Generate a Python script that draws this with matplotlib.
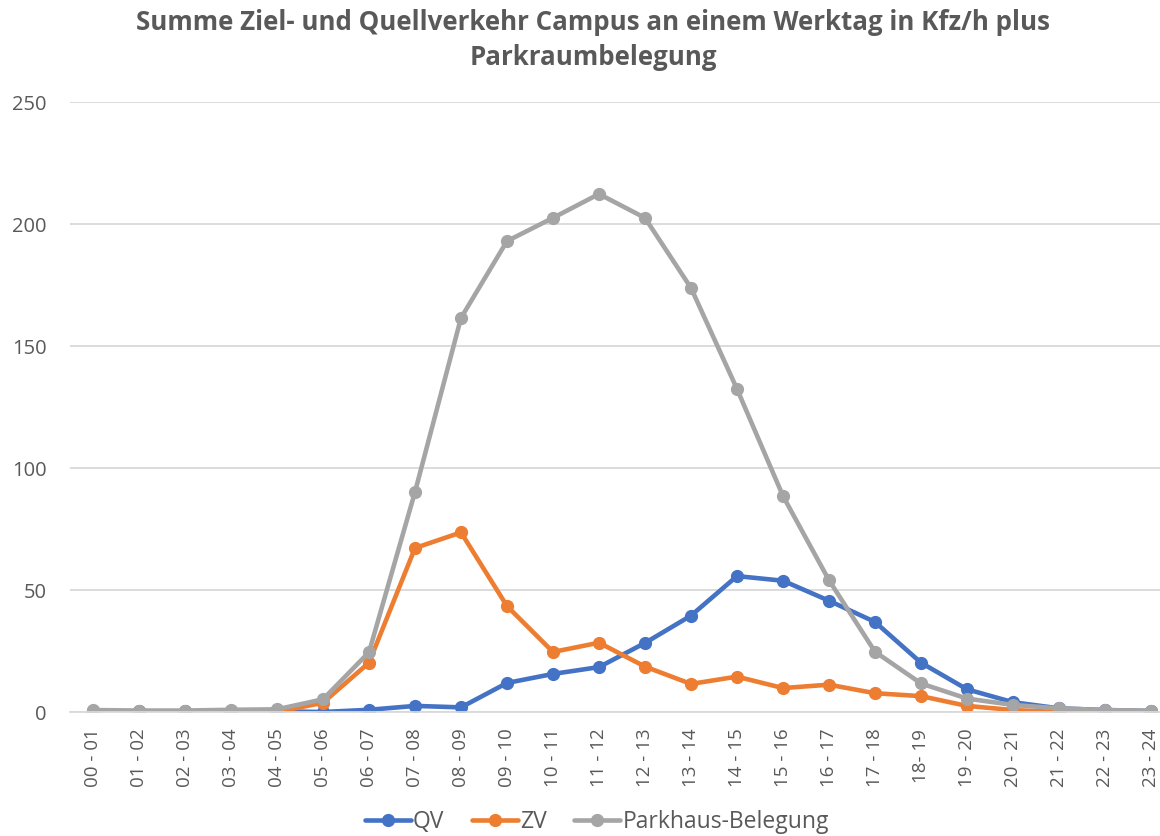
import matplotlib
matplotlib.use("Agg")
import matplotlib.pyplot as plt
from matplotlib.ticker import MultipleLocator

categories = ["00 - 01", "01 - 02", "02 - 03", "03 - 04", "04 - 05", "05 - 06",
              "06 - 07", "07 - 08", "08 - 09", "09 - 10", "10 - 11", "11 - 12",
              "12 - 13", "13 - 14", "14 - 15", "15 - 16", "16 - 17", "17 - 18",
              "18- 19", "19 - 20", "20 - 21", "21 - 22", "22 - 23", "23 - 24"]
qv = [0.3, 0.3, 0.3, 0.3, 0.3, 0.0, 0.9, 2.5, 1.9, 11.9, 15.6, 18.4,
      28.3, 39.5, 55.7, 53.8, 45.6, 36.9, 20.2, 9.3, 4.0, 1.5, 0.8, 0.4]
zv = [0.0, 0.0, 0.0, 0.0, 0.0, 3.8, 20.2, 67.2, 73.6, 43.4, 24.6, 28.4,
      18.6, 11.5, 14.5, 9.8, 11.2, 7.7, 6.5, 2.5, 0.8, 0.0, 0.0, 0.0]
parkhaus = [0.8, 0.6, 0.6, 0.9, 1.1, 5.2, 24.5, 90.2, 161.5, 193.0, 202.5, 212.3,
            202.5, 173.8, 132.4, 88.5, 54.0, 24.7, 11.7, 5.5, 2.9, 1.5, 0.8, 0.5]

title = "Summe Ziel- und Quellverkehr Campus an einem Werktag in Kfz/h plus\nParkraumbelegung"
series_names = ["QV", "ZV", "Parkhaus-Belegung"]
colors = ["#4472C4", "#ED7D31", "#A5A5A5"]

plt.rcParams['font.family'] = ['Open Sans', 'DejaVu Sans']
txt = "#595959"

fig = plt.figure(figsize=(11.6, 8.36), dpi=100)
ax = fig.add_axes([70/1160, 1 - 712/836, 1104/1160, 610/836])

x = list(range(len(categories)))
for vals, name, c in zip([qv, zv, parkhaus], series_names, colors):
    ax.plot(x, vals, color=c, lw=3.3, marker='o', ms=8.5, label=name,
            solid_capstyle='round', solid_joinstyle='round')

ax.set_ylim(0, 250)
ax.set_xlim(-0.5, 23.5)
ax.yaxis.set_major_locator(MultipleLocator(50))
ax.set_xticks(x)
ax.set_xticklabels(categories, rotation=90, fontsize=13.5, color=txt)
ax.tick_params(axis='y', labelsize=14.5, colors=txt, length=0, pad=17)
ax.tick_params(axis='x', length=0, pad=12)
ax.grid(axis='y', color='#D9D9D9', lw=1.3)
ax.set_axisbelow(True)
for s in ['top', 'right', 'left']:
    ax.spines[s].set_visible(False)
ax.spines['bottom'].set_color('#D9D9D9')
ax.spines['bottom'].set_linewidth(1.3)

fig.text(593/1160, 1 - 40/836, title, ha='center', va='center', fontsize=18.6,
         fontweight='bold', color=txt, linespacing=1.42)

leg = fig.legend(loc='center', bbox_to_anchor=(597/1160, 1 - 822/836), ncol=3,
                 frameon=False, fontsize=16.5, handlelength=2.0, columnspacing=1.2,
                 handletextpad=0.1)
for t in leg.get_texts():
    t.set_color(txt)

fig.savefig("out.png", dpi=100)
